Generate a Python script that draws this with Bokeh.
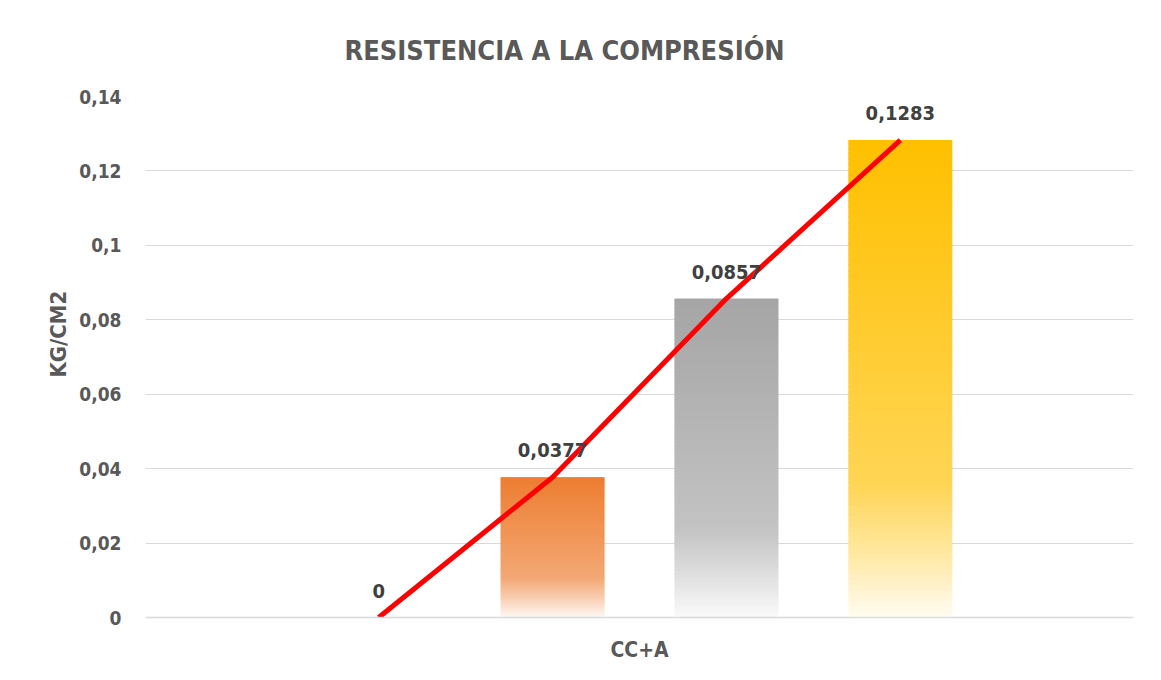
from bokeh.plotting import figure
from bokeh.models import ColumnDataSource, Range1d, FixedTicker, LabelSet, Title
from bokeh.core.properties import value
from bokeh.embed import file_html
from bokeh.resources import INLINE

# ---------------- data ----------------
group_label = "CC+A"
y_axis_title = "KG/CM2"
series = ["Serie 1", "Serie 2", "Serie 3", "Serie 4"]
values = [0.0, 0.0377, 0.0857, 0.1283]
value_labels = ["0", "0,0377", "0,0857", "0,1283"]
y_ticks = [0, 0.02, 0.04, 0.06, 0.08, 0.10, 0.12, 0.14]
y_tick_labels = ["0", "0,02", "0,04", "0,06", "0,08", "0,1", "0,12", "0,14"]

# ---------------- styles ----------------
bar_colors = ["#5B9BD5", "#ED7D31", "#A5A5A5", "#FFC000"]
FONT_NAME = "Liberation Sans Narrow, DejaVu Sans Condensed, Roboto Condensed, Roboto"
FONT = value(FONT_NAME)
TXT = "#595959"
GRID = "#D9D9D9"

spacing = 0.176
bar_w = 0.105
centers = [0.5 + (i - (len(series) - 1) / 2) * spacing for i in range(len(series))]


def hex2rgb(h):
    h = h.lstrip("#")
    return [int(h[i:i + 2], 16) for i in (0, 2, 4)]


def mix_white(c, f):
    r, g, b = hex2rgb(c)
    return [r + (255 - r) * f, g + (255 - g) * f, b + (255 - b) * f]


def grad_color(c, t):
    # t: 0 at top, 1 at bottom
    stops = [(0.0, 0.0), (0.72, 0.33), (0.86, 0.62), (1.0, 0.95)]
    f = stops[-1][1]
    for (t0, f0), (t1, f1) in zip(stops[:-1], stops[1:]):
        if t <= t1:
            f = f0 + (f1 - f0) * (t - t0) / (t1 - t0)
            break
    r, g, b = mix_white(c, f)
    return "#%02x%02x%02x" % (round(r), round(g), round(b))


N = 90
L, R, B, T, C = [], [], [], [], []
for xc, v, col in zip(centers, values, bar_colors):
    if v <= 0:
        continue
    for k in range(N):
        b = v * k / N
        t = v * min(k + 1.8, N) / N  # overlap to hide seams
        frac_from_top = 1 - (k + 0.5) / N
        L.append(xc - bar_w / 2)
        R.append(xc + bar_w / 2)
        B.append(b)
        T.append(t)
        C.append(grad_color(col, frac_from_top))

slices = ColumnDataSource(dict(left=L, right=R, bottom=B, top=T, color=C))
pts = ColumnDataSource(dict(x=centers, y=values, lab=value_labels))

p = figure(
    width=1145, height=664,
    x_range=Range1d(0, 1), y_range=Range1d(0, 0.14),
    output_backend="svg", toolbar_location=None,
    min_border_left=145, min_border_right=12,
    min_border_top=96, min_border_bottom=47,
)
p.outline_line_color = None
p.background_fill_color = "white"
p.border_fill_color = "white"

p.add_layout(Title(text="RESISTENCIA A LA COMPRESIÓN", align="left", offset=199,
                   text_font=FONT_NAME, text_font_size="27px",
                   text_font_style="bold", text_color=TXT, standoff=62), "above")

p.quad(left="left", right="right", bottom="bottom", top="top", source=slices,
       fill_color="color", line_color=None)

p.line("x", "y", source=pts, line_color="#FF0000", line_width=5)

labels = LabelSet(x="x", y="y", text="lab", source=pts, y_offset=20,
                  text_align="center", text_baseline="bottom",
                  text_font=FONT, text_font_size="20px", text_font_style="bold",
                  text_color="#404040")
p.add_layout(labels)

# axes
p.xaxis.ticker = FixedTicker(ticks=[0.5])
p.xaxis.major_label_overrides = {0.5: group_label}
p.xaxis.major_tick_line_color = None
p.xaxis.minor_tick_line_color = None
p.xaxis.axis_line_color = GRID
p.xaxis.axis_line_width = 1.5
p.xaxis.major_label_standoff = 14
p.xaxis.major_label_text_font = FONT_NAME
p.xaxis.major_label_text_font_size = "21px"
p.xaxis.major_label_text_font_style = "bold"
p.xaxis.major_label_text_color = TXT

p.yaxis.ticker = FixedTicker(ticks=y_ticks)
p.yaxis.major_label_overrides = {t: s for t, s in zip(y_ticks, y_tick_labels)}
p.yaxis.axis_line_color = None
p.yaxis.major_tick_line_color = None
p.yaxis.minor_tick_line_color = None
p.yaxis.major_label_standoff = 18
p.yaxis.major_label_text_font = FONT_NAME
p.yaxis.major_label_text_font_size = "19px"
p.yaxis.major_label_text_font_style = "bold"
p.yaxis.major_label_text_color = TXT

# y-axis title, placed as a side title so it can sit off-centre like the original
p.add_layout(Title(text=y_axis_title, align="left", offset=240, standoff=12,
                   text_font=FONT_NAME, text_font_size="22px",
                   text_font_style="bold", text_color=TXT), "left")

p.xgrid.grid_line_color = None
p.ygrid.grid_line_color = GRID
p.ygrid.grid_line_width = 1

open("out.html", "w").write(file_html(p, INLINE))
